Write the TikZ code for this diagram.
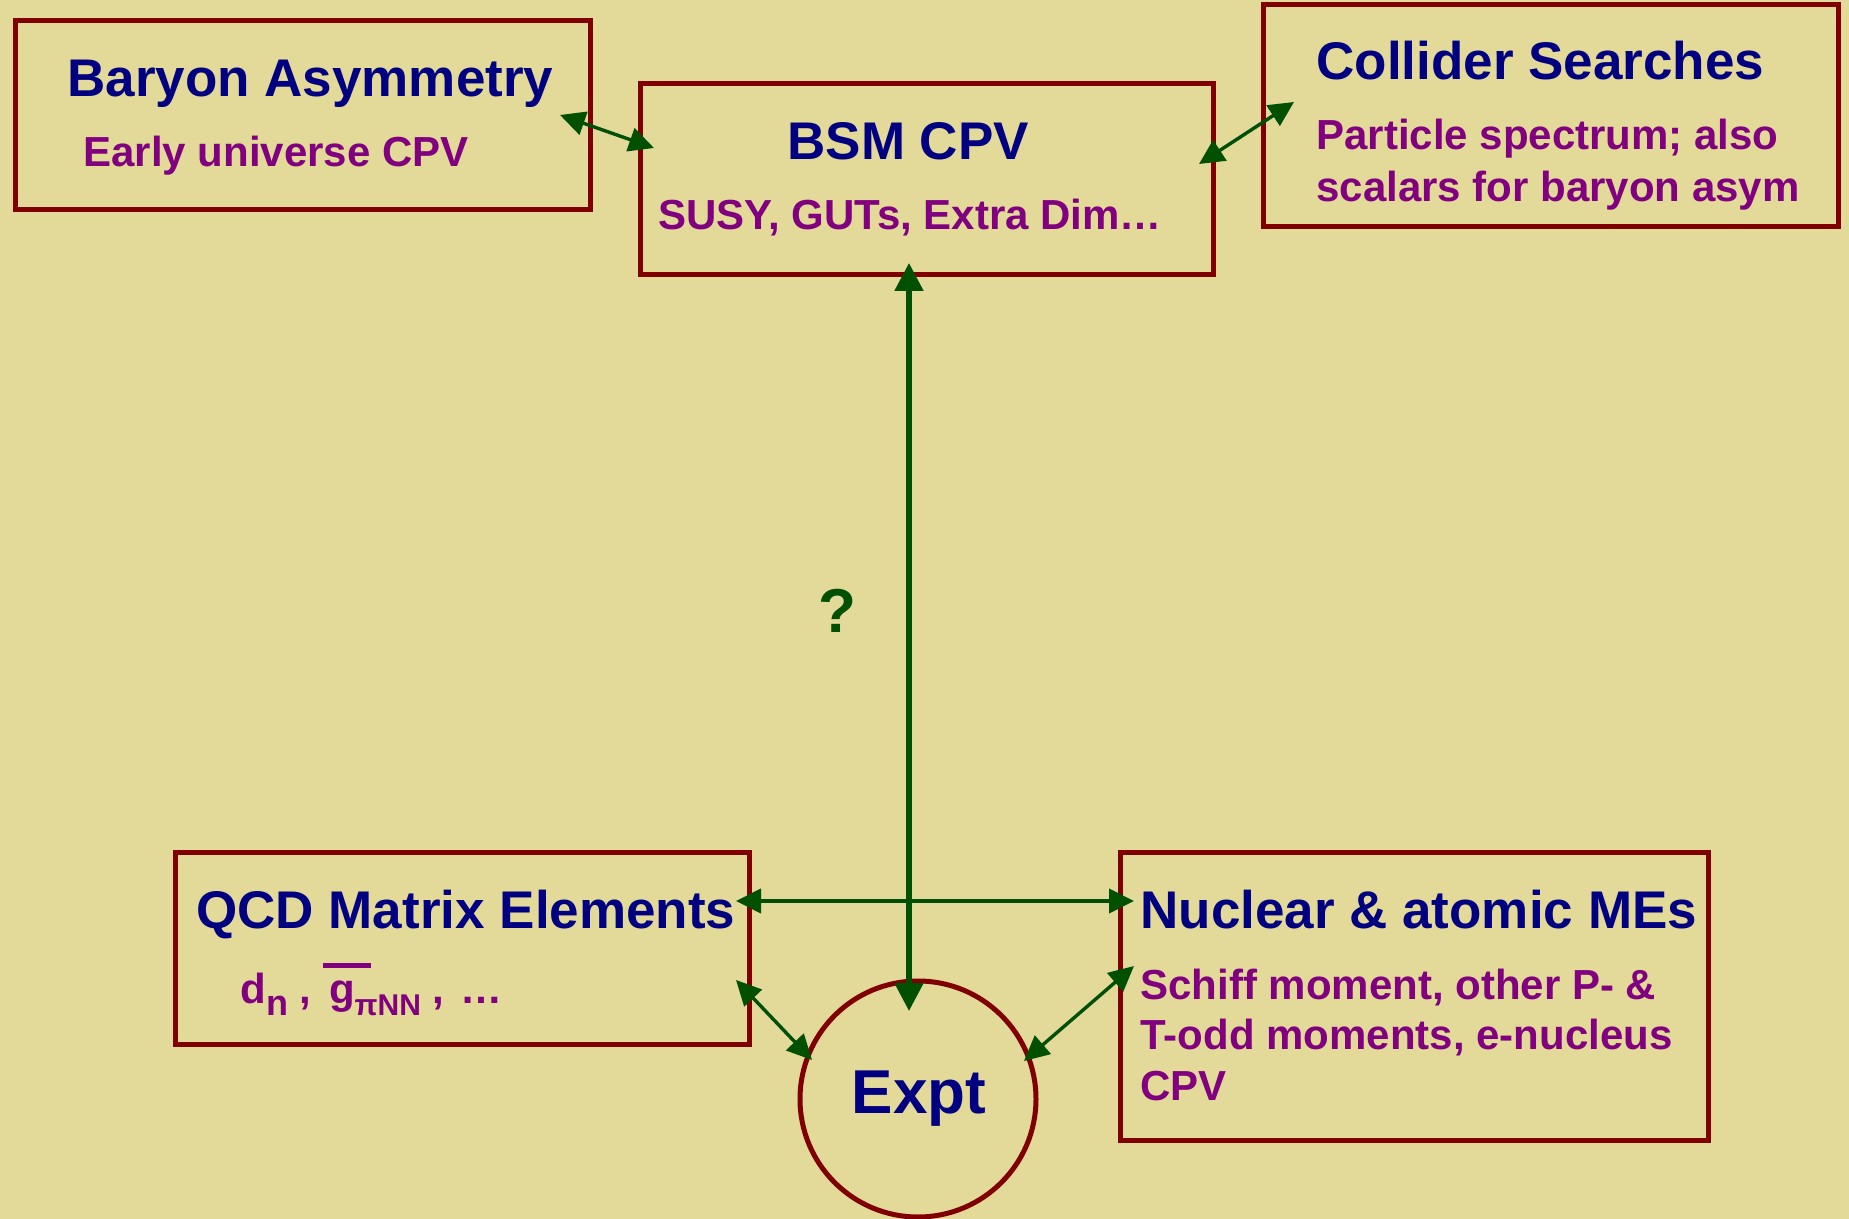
\documentclass[tikz,border=0pt]{standalone}
\usepackage{fontspec}
\setmainfont{Liberation Sans}
\usetikzlibrary{arrows.meta}
\definecolor{bg}{HTML}{E3D998}
\definecolor{navyt}{HTML}{000080}
\definecolor{purp}{HTML}{800080}
\definecolor{maroonb}{HTML}{800000}
\definecolor{grn}{HTML}{005000}
\begin{document}
\begin{tikzpicture}[x=0.5pt,y=-0.5pt,
  box/.style={draw=maroonb, line width=2.5pt, inner sep=0pt, rectangle},
  ttl/.style={anchor=base west, inner sep=0pt, text=navyt, font=\fontsize{26.5}{30}\selectfont\bfseries},
  sub/.style={anchor=base west, inner sep=0pt, text=purp, font=\fontsize{21}{25}\selectfont\bfseries},
  arr/.style={draw=grn, line width=1.7pt, {Triangle[length=12.5pt,width=12pt]}-{Triangle[length=12.5pt,width=12pt]}, fill=grn},
  arrthick/.style={draw=grn, line width=2.6pt, {Triangle[length=14pt,width=14pt]}-{Triangle[length=14pt,width=14pt]}, fill=grn}]
\fill[bg] (0,0) rectangle (1849,1219);
\useasboundingbox (0,0) rectangle (1849,1219);
% boxes
\node[box, minimum width=287.5pt, minimum height=94.5pt] (bary) at (302.5,115.5) {};
\node[box, minimum width=286.5pt, minimum height=95.5pt] (bsm) at (926.5,179.5) {};
\node[box, minimum width=287.5pt, minimum height=111pt] (coll) at (1550.5,116) {};
\node[box, minimum width=287pt, minimum height=96pt] (qcd) at (462,948) {};
\node[box, minimum width=294pt, minimum height=144pt] (nuc) at (1414,996) {};
\node[draw=maroonb, line width=2.5pt, circle, inner sep=0pt, minimum size=118pt] (expt) at (918,1099) {};
% texts
\node[ttl] (baryT) at (67,97) {Baryon Asymmetry};
\node[sub] (baryS) at (83,167) {Early universe CPV};
\node[ttl] (bsmT) at (787,160) {BSM CPV};
\node[sub] (bsmS) at (658,230) {SUSY, GUTs, Extra Dim…};
\node[ttl] (collT) at (1316,80) {Collider Searches};
\node[sub] (collS1) at (1316,150) {Particle spectrum; also};
\node[sub] (collS2) at (1316,202) {scalars for baryon asym};
\node[ttl] (qcdT) at (196,928) {QCD Matrix Elements};
\node[sub] (qcdS) at (240,1003) {d\raisebox{-6pt}{\fontsize{18}{18}\selectfont n} , \rlap{\rule[17.5pt]{24pt}{2.6pt}}\hspace{3pt}g\raisebox{-6pt}{\fontsize{15}{15}\selectfont πNN} , \hspace{2pt}…};
\node[ttl] (nucT) at (1140,928) {Nuclear \& atomic MEs};
\node[sub] (nucS1) at (1140,999) {Schiff moment, other P- \&};
\node[sub] (nucS2) at (1140,1049) {T-odd moments, e-nucleus};
\node[sub] (nucS3) at (1140,1100) {CPV};
\node[anchor=base, inner sep=0pt, text=navyt, font=\fontsize{31}{35}\selectfont\bfseries] (exptT) at (919,1113) {Expt};
\node[inner sep=0pt, text=grn, font=\fontsize{31}{35}\selectfont\bfseries] (q) at (837,611) {?};
% connector ends
\coordinate (a1) at (560,115); \coordinate (a2) at (654,148);
\coordinate (b1) at (1199,164); \coordinate (b2) at (1294,102);
\coordinate (c1) at (909,263); \coordinate (c2) at (909,1011);
\coordinate (d1) at (736,901); \coordinate (d2) at (1134,901);
\coordinate (e1) at (736,980); \coordinate (e2) at (812,1060);
\coordinate (f1) at (1134,966); \coordinate (f2) at (1024,1061);
\draw[arr] (a1) -- (a2);
\draw[arr] (b1) -- (b2);
\draw[arr, line width=2pt] (d1) -- (d2);
\draw[arrthick] (c1) -- (c2);
\draw[arr] (e1) -- (e2);
\draw[arr] (f1) -- (f2);
\end{tikzpicture}
\end{document}
